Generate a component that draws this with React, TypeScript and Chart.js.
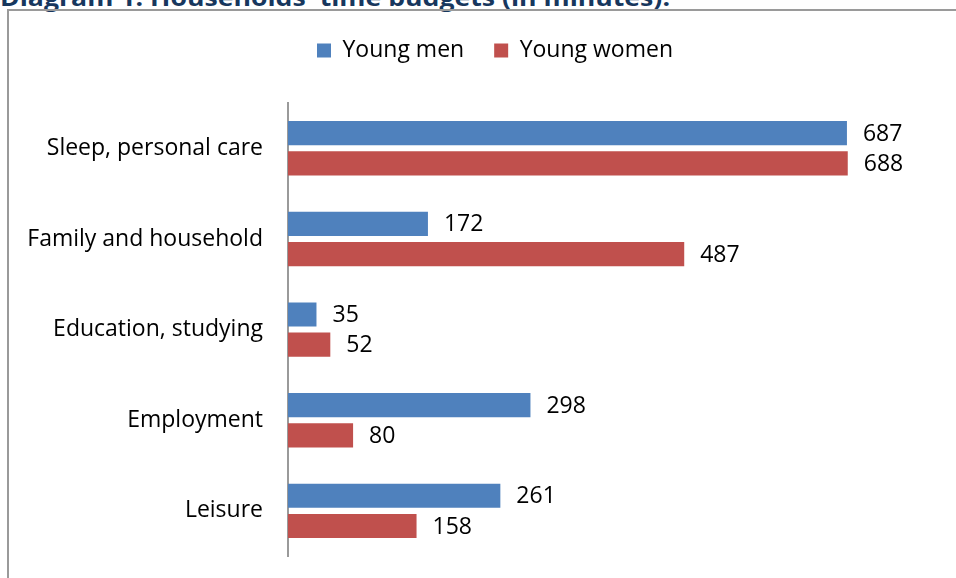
import React, { useEffect, useRef } from "react";
import { Chart, registerables } from "chart.js";

Chart.register(...registerables);

const TITLE = "Diagram 1: Households' time budgets (in minutes).";
const categories = ["Sleep, personal care", "Family and household", "Education, studying", "Employment", "Leisure"];
const youngMen = [687, 172, 35, 298, 261];
const youngWomen = [688, 487, 52, 80, 158];
const seriesNames = ["Young men", "Young women"];
const seriesColors = ["#4F81BD", "#C0504D"];

const FONT = "'Open Sans', sans-serif";
const FS = 23;

const valueLabels = {
  id: "valueLabels",
  afterDatasetsDraw(chart: any) {
    const ctx = chart.ctx;
    ctx.save();
    ctx.font = `${FS}px ${FONT}`;
    ctx.fillStyle = "#000";
    ctx.textAlign = "left";
    ctx.textBaseline = "middle";
    chart.data.datasets.forEach((ds: any, i: number) => {
      const meta = chart.getDatasetMeta(i);
      meta.data.forEach((bar: any, j: number) => {
        ctx.fillText(String(ds.data[j]), bar.x + 16, bar.y + 1);
      });
    });
    ctx.restore();
  },
};

const legendGap = {
  id: "legendGap",
  beforeUpdate(chart: any) {
    const lg = chart.legend;
    if (lg && !lg._gapPatched) {
      const orig = lg.fit;
      lg.fit = function () {
        orig.call(this);
        this.height += 31;
      };
      lg._gapPatched = true;
    }
  },
};

export default function App() {
  const ref = useRef<HTMLCanvasElement>(null);
  useEffect(() => {
    const chart = new Chart(ref.current!, {
      type: "bar",
      data: {
        labels: categories,
        datasets: [
          { label: seriesNames[0], data: youngMen, backgroundColor: seriesColors[0], borderWidth: 0 },
          { label: seriesNames[1], data: youngWomen, backgroundColor: seriesColors[1], borderWidth: 0 },
        ],
      },
      options: {
        indexAxis: "y",
        animation: false,
        responsive: false,
        maintainAspectRatio: false,
        devicePixelRatio: 1,
        layout: { padding: { top: 0, right: 16, bottom: 16, left: 0 } },
        datasets: { bar: { categoryPercentage: 0.667, barPercentage: 0.8 } },
        plugins: {
          legend: {
            display: true,
            position: "top",
            labels: {
              boxWidth: 14,
              boxHeight: 14,
              padding: 30,
              color: "#000",
              font: { family: FONT, size: FS },
            },
          },
          tooltip: { enabled: false },
          title: { display: false },
        },
        scales: {
          x: {
            min: 0,
            max: 853,
            display: false,
            grid: { display: false },
          },
          y: {
            afterFit: (s: any) => { s.width = 280; },
            grid: { display: false, drawTicks: false },
            border: { display: true, color: "#9a9a9a", width: 2 },
            ticks: { color: "#000", padding: 25, font: { family: FONT, size: FS } },
          },
        },
      },
      plugins: [legendGap, valueLabels],
    });
    return () => chart.destroy();
  }, []);

  return (
    <div style={{ position: "fixed", left: 0, top: 0, width: 956, height: 578, overflow: "hidden", background: "#fff" }}>
      <svg style={{ position: "absolute", left: 0, top: 0 }} width={956} height={20}>
        <text x={0} y={6} textLength={670} lengthAdjust="spacingAndGlyphs"
          style={{ font: `bold 23px ${FONT}`, fill: "#17375E" }}>{TITLE}</text>
      </svg>
      <div style={{ position: "absolute", left: 7, top: 9, width: 1400, height: 1400, border: "2px solid #9a9a9a", boxSizing: "border-box" }} />
      <div style={{ position: "absolute", left: 8, top: 9, width: 990, height: 586 }}>
        <canvas ref={ref} width={990} height={586} style={{ width: 990, height: 586, display: "block" }} />
      </div>
    </div>
  );
}
